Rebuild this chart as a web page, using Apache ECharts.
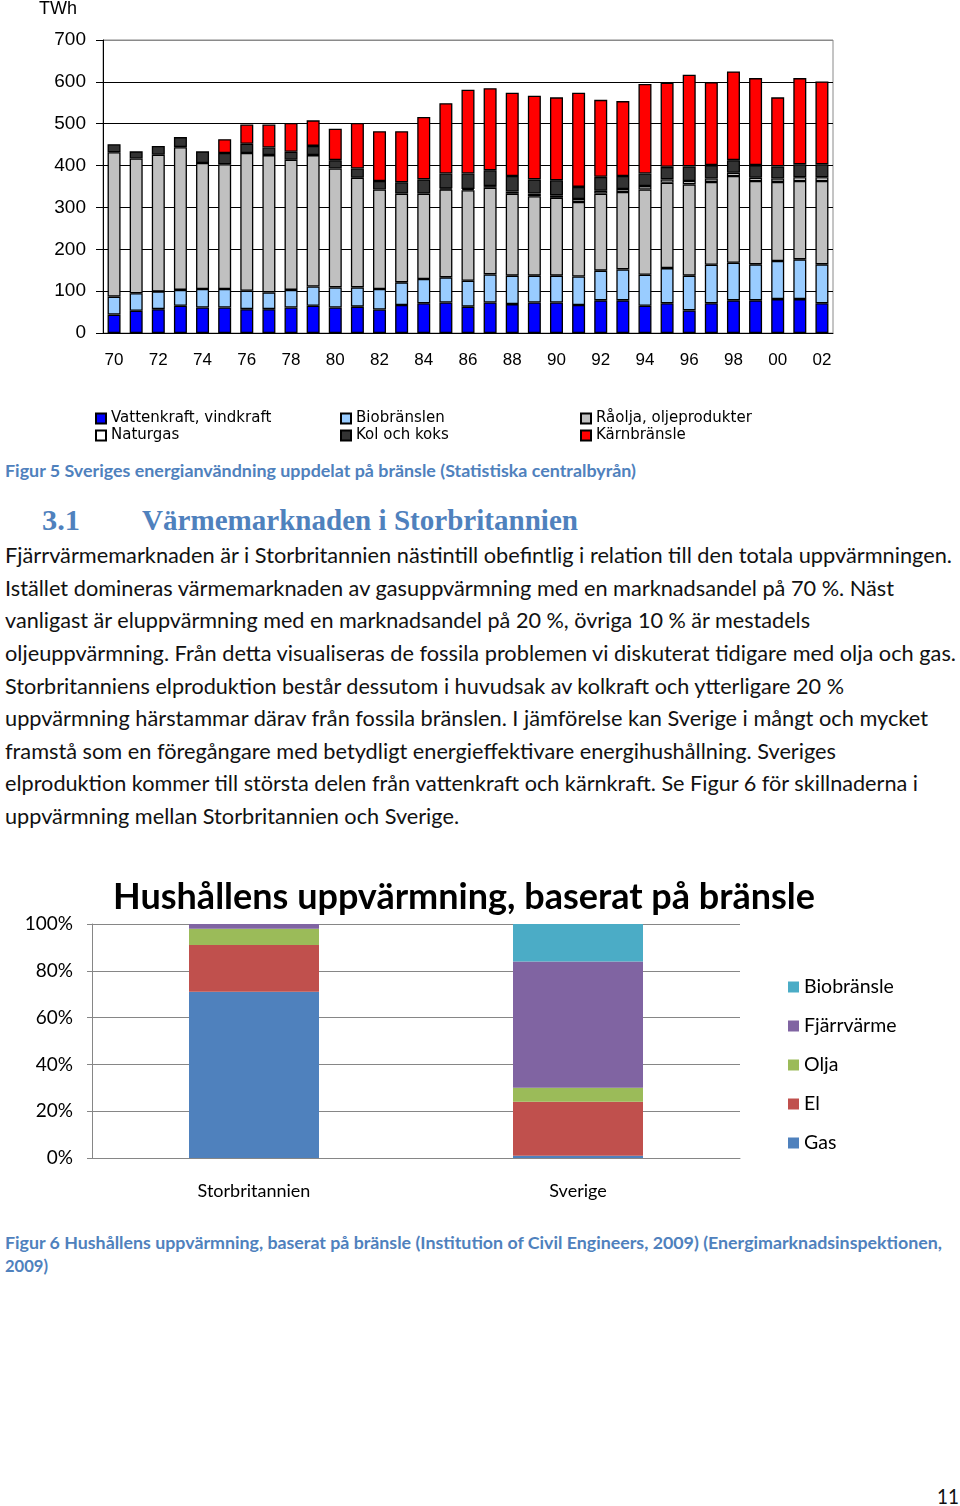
<!DOCTYPE html>
<html>
<head>
<meta charset="utf-8">
<script src="https://cdn.jsdelivr.net/npm/echarts@6/dist/echarts.min.js"></script>
<style>
  html, body { margin: 0; padding: 0; background: #fff; }
  body { width: 960px; height: 1506px; position: relative; overflow: hidden; }
  #c1 { position: absolute; left: 0; top: 0; width: 960px; height: 455px; }
  #c2 { position: absolute; left: 0; top: 860px; width: 960px; height: 360px; }
  .ln { position: absolute; white-space: nowrap; transform-origin: 0 50%; line-height: 26px; height: 26px; }
  .body { font-family: Lato, "Open Sans", sans-serif; font-size: 21px; color: #111; }
  .cap { font-family: Lato, "Open Sans", sans-serif; font-size: 17px; font-weight: bold; color: #4F81BD; }
  .hd { font-family: "Liberation Serif", "DejaVu Serif", serif; font-size: 29px; font-weight: bold; color: #4F81BD; }
  .pg { font-family: Lato, sans-serif; font-size: 22px; color: #111; }
</style>
</head>
<body>
<div id="c1"></div>
<div id="c2"></div>

<div class="ln cap" style="left:5px;top:458px" data-w="631">Figur 5 Sveriges energianvändning uppdelat på bränsle (Statistiska centralbyrån)</div>
<div class="ln hd" style="left:42px;top:507px" data-w="38">3.1</div>
<div class="ln hd" style="left:142px;top:507px" data-w="436">Värmemarknaden i Storbritannien</div>

<div class="ln body" style="left:5px;top:542px" data-w="947">Fjärrvärmemarknaden är i Storbritannien nästintill obefintlig i relation till den totala uppvärmningen.</div>
<div class="ln body" style="left:5px;top:575px" data-w="889">Istället domineras värmemarknaden av gasuppvärmning med en marknadsandel på 70 %. Näst</div>
<div class="ln body" style="left:5px;top:607px" data-w="805">vanligast är eluppvärmning med en marknadsandel på 20 %, övriga 10 % är mestadels</div>
<div class="ln body" style="left:5px;top:640px" data-w="951">oljeuppvärmning. Från detta visualiseras de fossila problemen vi diskuterat tidigare med olja och gas.</div>
<div class="ln body" style="left:5px;top:673px" data-w="839">Storbritanniens elproduktion består dessutom i huvudsak av kolkraft och ytterligare 20 %</div>
<div class="ln body" style="left:5px;top:705px" data-w="923">uppvärmning härstammar därav från fossila bränslen. I jämförelse kan Sverige i mångt och mycket</div>
<div class="ln body" style="left:5px;top:738px" data-w="831">framstå som en föregångare med betydligt energieffektivare energihushållning. Sveriges</div>
<div class="ln body" style="left:5px;top:770px" data-w="913">elproduktion kommer till största delen från vattenkraft och kärnkraft. Se Figur 6 för skillnaderna i</div>
<div class="ln body" style="left:5px;top:803px" data-w="454">uppvärmning mellan Storbritannien och Sverige.</div>

<div class="ln cap" style="left:5px;top:1230px" data-w="937">Figur 6 Hushållens uppvärmning, baserat på bränsle (Institution of Civil Engineers, 2009) (Energimarknadsinspektionen,</div>
<div class="ln cap" style="left:5px;top:1253px" data-w="43">2009)</div>

<div class="ln pg" style="left:937px;top:1483px" data-w="22">11</div>

<script>
// ---------- Figure 5 data (TWh) ----------
const years = ['70','71','72','73','74','75','76','77','78','79','80','81','82','83','84','85','86','87','88','89','90','91','92','93','94','95','96','97','98','99','00','01','02'];
const vattenkraft = [44,53,57,65,61,61,57,57,61,65,61,63,56,67,71,73,63,73,69,73,73,67,78,78,65,71,54,71,78,78,81,81,71];
const biobranslen = [43,42,42,38,44,44,44,40,42,46,48,46,49,54,58,60,62,67,68,64,64,68,71,74,74,84,83,92,90,86,91,95,93];
const raolja = [345,322,327,341,301,298,329,328,311,314,284,262,238,212,204,210,216,207,196,190,186,178,184,185,204,204,218,198,207,199,189,187,199];
const naturgas = [0,0,0,0,0,0,0,0,0,0,0,0,0,0,0,2,3,4,5,6,6,7,7,7,8,8,8,8,8,8,8,9,9];
const kolKoks = [19,17,21,24,28,27,22,18,19,22,20,22,20,27,34,36,37,38,37,34,36,29,33,31,30,30,35,32,30,30,29,31,31];
const karnbransle = [0,0,0,0,0,33,46,55,69,61,75,109,119,122,149,168,200,196,199,200,198,225,184,179,214,201,219,198,212,208,165,206,198];
const yTicks1 = [0,100,200,300,400,500,600,700];

// ---------- Figure 6 data (%) ----------
const countries = ['Storbritannien','Sverige'];
const gas = [71, 1];
const el = [20, 23];
const olja = [7, 6];
const fjarrvarme = [2, 54];
const biobransle = [0, 16];

const nz = a => a.map(v => v === 0 ? null : v);

// ---------- Chart 1 ----------
const c1 = echarts.init(document.getElementById('c1'));
const s1 = [
  ['Vattenkraft, vindkraft', vattenkraft, '#0000FF'],
  ['Biobränslen', biobranslen, '#99CCFF'],
  ['Råolja, oljeprodukter', raolja, '#C0C0C0'],
  ['Naturgas', naturgas, '#FFFFFF'],
  ['Kol och koks', kolKoks, '#333333'],
  ['Kärnbränsle', karnbransle, '#FF0000']
];
const legFont = { fontFamily: '"DejaVu Sans", sans-serif', fontSize: 15, color: '#000', lineHeight: 17 };
const mkLeg = (left, names) => ({
  orient: 'vertical', left: left, top: 410, height: 44, itemWidth: 10, itemHeight: 10, itemGap: 0,
  padding: 0, icon: 'rect', data: names, textStyle: legFont, selectedMode: false
});
c1.setOption({
  animation: false,
  grid: { left: 103, right: 127, top: 39, bottom: 122, show: true, borderColor: '#8a8a8a', borderWidth: 1 },
  legend: [
    mkLeg(95, ['Vattenkraft, vindkraft', 'Naturgas']),
    mkLeg(340, ['Biobränslen', 'Kol och koks']),
    mkLeg(580, ['Råolja, oljeprodukter', 'Kärnbränsle'])
  ],
  xAxis: {
    type: 'category', data: years,
    axisLine: { lineStyle: { color: '#000', width: 1 } },
    axisTick: { interval: 0, length: 6, lineStyle: { color: '#000' } },
    axisLabel: { interval: 1, margin: 19, fontFamily: '"Liberation Sans", Arial, sans-serif', fontSize: 17, color: '#000' }
  },
  yAxis: {
    type: 'value', min: 0, max: 700, interval: 100,
    name: 'TWh', nameLocation: 'end', nameGap: 22,
    nameTextStyle: { fontFamily: '"Liberation Sans", Arial, sans-serif', fontSize: 18, color: '#000', align: 'right', padding: [0, 26, 0, 0] },
    axisLine: { show: true, lineStyle: { color: '#000', width: 1 } },
    axisTick: { show: true, length: 7, lineStyle: { color: '#000' } },
    axisLabel: { margin: 17, fontFamily: '"Liberation Sans", Arial, sans-serif', fontSize: 19, color: '#000',
      formatter: v => yTicks1.includes(v) ? String(v) : '' },
    splitLine: { show: true, lineStyle: { color: ['#000','#000','#000','#000','#000','#000','#000','#8a8a8a'], width: 1 } }
  },
  series: s1.map(([name, data, color]) => ({
    name: name, type: 'bar', stack: 'total', data: nz(data), barWidth: 13,
    itemStyle: { color: color, borderColor: '#000', borderWidth: 1.3 }
  }))
});

// ---------- Chart 2 ----------
const c2 = echarts.init(document.getElementById('c2'));
const s2 = [
  ['Gas', gas, '#4F81BD'],
  ['El', el, '#C0504D'],
  ['Olja', olja, '#9BBB59'],
  ['Fjärrvärme', fjarrvarme, '#8064A2'],
  ['Biobränsle', biobransle, '#4BACC6']
];
const calFont = 'Lato, "Open Sans", sans-serif';
c2.setOption({
  animation: false,
  title: {
    text: 'Hushållens uppvärmning, baserat på bränsle',
    left: 459, top: 14, textAlign: 'center',
    textStyle: { fontFamily: calFont, fontWeight: 'bold', fontSize: 36, color: '#000' }
  },
  grid: { left: 92, right: 220, top: 64, bottom: 62 },
  legend: {
    orient: 'vertical', left: 788, top: 117, padding: 0, itemWidth: 11, itemHeight: 11, itemGap: 19,
    icon: 'rect', selectedMode: false,
    data: ['Biobränsle', 'Fjärrvärme', 'Olja', 'El', 'Gas'],
    textStyle: { fontFamily: calFont, fontSize: 19.5, color: '#000', lineHeight: 19 }
  },
  xAxis: {
    type: 'category', data: countries,
    axisLine: { lineStyle: { color: '#868686' } },
    axisTick: { length: 5, lineStyle: { color: '#868686' } },
    axisLabel: { margin: 24, fontFamily: calFont, fontSize: 18, color: '#000' }
  },
  yAxis: {
    type: 'value', min: 0, max: 100, interval: 20,
    axisLine: { show: true, lineStyle: { color: '#868686' } },
    axisTick: { show: true, length: 5, lineStyle: { color: '#868686' } },
    axisLabel: { margin: 19, fontFamily: calFont, fontSize: 19, color: '#000', formatter: '{value}%' },
    splitLine: { lineStyle: { color: '#868686' } }
  },
  series: s2.map(([name, data, color]) => ({
    name: name, type: 'bar', stack: 'total', data: nz(data), barWidth: 130,
    itemStyle: { color: color }
  }))
});

// ---------- fit text lines to widths ----------
function fit() {
  document.querySelectorAll('.ln').forEach(el => {
    el.style.transform = 'none';
    const w = el.getBoundingClientRect().width;
    const t = +el.dataset.w;
    if (w > 0) el.style.transform = 'scaleX(' + (t / w) + ')';
  });
}
fit();
if (document.fonts && document.fonts.ready) document.fonts.ready.then(fit);
</script>
</body>
</html>
